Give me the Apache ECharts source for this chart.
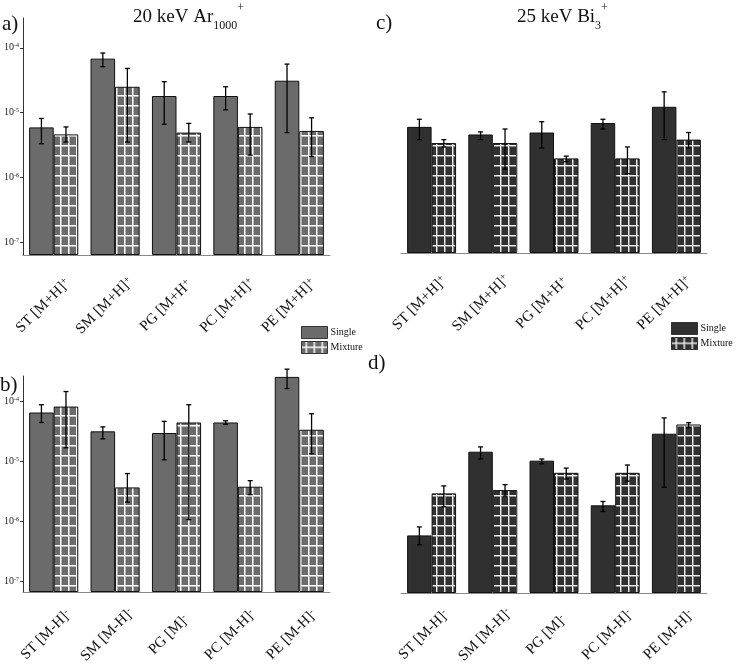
<!DOCTYPE html>
<html>
<head>
<meta charset="utf-8">
<script src="https://cdn.jsdelivr.net/npm/echarts@6/dist/echarts.min.js"></script>
<style>
html, body { margin: 0; padding: 0; background: #fff; }
#chart { width: 737px; height: 669px; }
</style>
</head>
<body>
<div id="chart"></div>
<script>
// categories
const catsPos = ['ST [M+H]+', 'SM [M+H]+', 'PG [M+H+', 'PC [M+H]+', 'PE [M+H]+']
const catsNeg = ['ST [M-H]-', 'SM [M-H]-', 'PG [M]-', 'PC [M-H]-', 'PE [M-H]-']

// a) 20 keV Ar1000+, positive ions
const arPosSingle = [5.9e-6, 6.8e-5, 1.8e-5, 1.8e-5, 3.1e-5]
const arPosSingleLo = [3.3e-6, 5.1e-5, 6.6e-6, 1.1e-5, 4.9e-6]
const arPosSingleHi = [8.1e-6, 8.3e-5, 3.0e-5, 2.5e-5, 5.6e-5]
const arPosMix = [4.6e-6, 2.5e-5, 4.9e-6, 6.0e-6, 5.2e-6]
const arPosMixLo = [3.5e-6, 3.5e-6, 3.5e-6, 2.2e-6, 2.1e-6]
const arPosMixHi = [6.0e-6, 4.8e-5, 6.8e-6, 9.5e-6, 8.3e-6]

// b) 20 keV Ar1000+, negative ions
const arNegSingle = [6.6e-5, 3.2e-5, 3.0e-5, 4.5e-5, 2.6e-4]
const arNegSingleLo = [4.5e-5, 2.4e-5, 1.07e-5, 4.2e-5, 1.66e-4]
const arNegSingleHi = [8.9e-5, 3.8e-5, 4.7e-5, 4.8e-5, 3.5e-4]
const arNegMix = [8.3e-5, 3.7e-6, 4.5e-5, 3.8e-6, 3.4e-5]
const arNegMixLo = [1.7e-5, 2.1e-6, 1.07e-6, 2.8e-6, 1.35e-5]
const arNegMixHi = [1.48e-4, 6.3e-6, 8.9e-5, 4.8e-6, 6.3e-5]

// c) 25 keV Bi3+, positive ions
const biPosSingle = [5.5e-6, 4.2e-6, 4.5e-6, 6.3e-6, 1.12e-5]
const biPosSingleLo = [3.5e-6, 3.5e-6, 2.6e-6, 5.1e-6, 3.5e-6]
const biPosSingleHi = [7.2e-6, 4.6e-6, 6.6e-6, 7.2e-6, 1.9e-5]
const biPosMix = [3.1e-6, 3.1e-6, 1.8e-6, 1.8e-6, 3.5e-6]
const biPosMixLo = [2.7e-6, 1.23e-6, 1.6e-6, 1.05e-6, 2.6e-6]
const biPosMixHi = [3.5e-6, 5.1e-6, 1.95e-6, 2.7e-6, 4.5e-6]

// d) 25 keV Bi3+, negative ions
const biNegSingle = [6.0e-7, 1.48e-5, 1.05e-5, 1.9e-6, 2.95e-5]
const biNegSingleLo = [4.2e-7, 1.12e-5, 9.3e-6, 1.5e-6, 3.8e-6]
const biNegSingleHi = [8.3e-7, 1.78e-5, 1.12e-5, 2.2e-6, 5.4e-5]
const biNegMix = [3.0e-6, 3.4e-6, 6.6e-6, 6.6e-6, 4.2e-5]
const biNegMixLo = [1.8e-6, 2.7e-6, 5.2e-6, 4.8e-6, 3.7e-5]
const biNegMixHi = [4.0e-6, 4.2e-6, 7.9e-6, 8.9e-6, 4.5e-5]

const serif = 'Liberation Serif'
const grey = '#6b6b6b'
const dark = '#303030'

// grid hatch for the "Mixture" bars
function makePattern(bg, line, soft) {
    const c = document.createElement('canvas')
    c.width = 8
    c.height = 10
    const g = c.getContext('2d')
    g.fillStyle = bg
    g.fillRect(0, 0, 8, 10)
    g.fillStyle = soft
    g.fillRect(0, 5, 8, 2)
    g.fillRect(4, 0, 2, 10)
    g.fillStyle = line
    g.fillRect(0, 5, 8, 1)
    g.fillRect(4, 0, 1, 10)
    return { image: c, repeat: 'repeat' }
}
const greyPattern = makePattern(grey, '#ffffff', '#b8b8b8')
const darkPattern = makePattern(dark, '#f0f0f0', '#8a8a8a')

const panels = [
    { grid: { left: 23, top: 18, width: 307, height: 237 }, yr: [-7.2, -3.54], cats: catsPos, showY: true, color: grey, pattern: greyPattern, labelMargin: 40, labelShift: 30,
      s: arPosSingle, sLo: arPosSingleLo, sHi: arPosSingleHi, m: arPosMix, mLo: arPosMixLo, mHi: arPosMixHi },
    { grid: { left: 23, top: 376, width: 307, height: 216 }, yr: [-7.18, -3.57], cats: catsNeg, showY: true, color: grey, pattern: greyPattern, labelMargin: 35, labelShift: 22,
      s: arNegSingle, sLo: arNegSingleLo, sHi: arNegSingleHi, m: arNegMix, mLo: arNegMixLo, mHi: arNegMixHi },
    { grid: { left: 401, top: 18, width: 306, height: 235 }, yr: [-7.2, -3.585], cats: catsPos, showY: false, color: dark, pattern: darkPattern, labelMargin: 38, labelShift: 34,
      s: biPosSingle, sLo: biPosSingleLo, sHi: biPosSingleHi, m: biPosMix, mLo: biPosMixLo, mHi: biPosMixHi },
    { grid: { left: 401, top: 376, width: 306, height: 217 }, yr: [-7.18, -3.57], cats: catsNeg, showY: false, color: dark, pattern: darkPattern, labelMargin: 34, labelShift: 22,
      s: biNegSingle, sLo: biNegSingleLo, sHi: biNegSingleHi, m: biNegMix, mLo: biNegMixLo, mHi: biNegMixHi }
]

function errorBars(side) {
    return function (params, api) {
        const lo = api.coord([api.value(0), api.value(1)])
        const hi = api.coord([api.value(0), api.value(2)])
        const bw = api.size([1, 0])[0] * 0.8 / 2
        const x = lo[0] + side * bw / 2
        const st = { stroke: '#000', lineWidth: 1.3 }
        return {
            type: 'group',
            children: [
                { type: 'line', shape: { x1: x, y1: lo[1], x2: x, y2: hi[1] }, style: st },
                { type: 'line', shape: { x1: x - 2.5, y1: lo[1], x2: x + 2.5, y2: lo[1] }, style: st },
                { type: 'line', shape: { x1: x - 2.5, y1: hi[1], x2: x + 2.5, y2: hi[1] }, style: st }
            ]
        }
    }
}

function yLabel(v) {
    const e = Math.log10(v)
    const r = Math.round(e)
    if (Math.abs(e - r) > 0.01) return ''
    return '10{s|' + r + '}'
}

function xLabel(v) {
    return v.replace(/([+-])$/, '{s|$1}')
}

const grids = [], xAxes = [], yAxes = [], series = []
panels.forEach(function (p, i) {
    grids.push(p.grid)
    xAxes.push({
        type: 'category', gridIndex: i, data: p.cats,
        axisLine: { lineStyle: { color: '#888', width: 1 } },
        axisTick: { alignWithLabel: true, length: 5, lineStyle: { color: '#444' } },
        axisLabel: {
            interval: 0, rotate: 45, align: 'center', verticalAlign: 'middle', margin: p.labelMargin,
            padding: [0, p.labelShift, 0, 0],
            fontFamily: serif, fontSize: 15, color: '#111', formatter: xLabel,
            rich: { s: { fontFamily: serif, fontSize: 10, verticalAlign: 'top', lineHeight: 8 } }
        }
    })
    xAxes.push({
        type: 'category', gridIndex: i, data: p.cats, position: 'bottom',
        axisLine: { show: false }, axisLabel: { show: false },
        axisTick: { length: 3, lineStyle: { color: '#888' } }
    })
    yAxes.push({
        type: 'log', gridIndex: i, show: p.showY,
        min: Math.pow(10, p.yr[0]), max: Math.pow(10, p.yr[1]), startValue: Math.pow(10, p.yr[0]),
        splitNumber: 4,
        axisLine: { show: true, lineStyle: { color: '#333' } },
        axisTick: { show: true, length: 3, lineStyle: { color: '#333' } },
        splitLine: { show: false },
        axisLabel: {
            margin: 4, fontFamily: serif, fontSize: 10, color: '#222', formatter: yLabel,
            showMinLabel: false, showMaxLabel: false,
            rich: { s: { fontFamily: serif, fontSize: 6, verticalAlign: 'top', lineHeight: 6 } }
        }
    })
    const border = { borderColor: '#111', borderWidth: 1 }
    series.push({
        name: 'Single', type: 'bar', xAxisIndex: 2 * i, yAxisIndex: i, data: p.s,
        barGap: '0%', barCategoryGap: '20%',
        itemStyle: Object.assign({ color: p.color }, border)
    })
    series.push({
        name: 'Mixture', type: 'bar', xAxisIndex: 2 * i, yAxisIndex: i, data: p.m,
        barGap: '0%', barCategoryGap: '20%',
        itemStyle: Object.assign({ color: p.pattern }, border)
    })
    series.push({
        type: 'custom', xAxisIndex: 2 * i, yAxisIndex: i, z: 5,
        data: p.s.map(function (v, k) { return [k, p.sLo[k], p.sHi[k]] }),
        renderItem: errorBars(-1)
    })
    series.push({
        type: 'custom', xAxisIndex: 2 * i, yAxisIndex: i, z: 5,
        data: p.m.map(function (v, k) { return [k, p.mLo[k], p.mHi[k]] }),
        renderItem: errorBars(1)
    })
})

const titleRich = {
    sub: { fontFamily: serif, fontSize: 12, verticalAlign: 'bottom', lineHeight: 8, color: '#111' },
    sup: { fontFamily: serif, fontSize: 12, verticalAlign: 'top', lineHeight: 10, color: '#111' }
}
function title(text, left, top, size) {
    return {
        text: text, left: left, top: top, padding: 0,
        textStyle: { fontFamily: serif, fontSize: size, fontWeight: 'normal', color: '#111', lineHeight: 30, rich: titleRich }
    }
}

function legend(left, top, color, pattern) {
    return {
        left: left, top: top, orient: 'vertical', padding: 0, itemGap: 2,
        itemWidth: 26, itemHeight: 12, icon: 'rect', selectedMode: false,
        textStyle: { fontFamily: serif, fontSize: 10, color: '#111', padding: [0, 0, 0, -2] },
        data: [
            { name: 'Single', itemStyle: { color: color, borderColor: '#333', borderWidth: 1 } },
            { name: 'Mixture', itemStyle: { color: pattern, borderColor: '#333', borderWidth: 1 } }
        ]
    }
}

const chart = echarts.init(document.getElementById('chart'))
chart.setOption({
    animation: false,
    backgroundColor: '#fff',
    title: [
        title('a)', 2, 9, 21),
        title('20 keV Ar{sub|1000}{sup|+}', 133, 2, 19),
        title('c)', 376, 8, 21),
        title('25 keV Bi{sub|3}{sup|+}', 517, 2, 19),
        title('b)', 0, 370, 21),
        title('d)', 368, 348, 21)
    ],
    legend: [legend(301, 326, grey, greyPattern), legend(671, 322, dark, darkPattern)],
    grid: grids,
    xAxis: xAxes,
    yAxis: yAxes,
    series: series
})
</script>
</body>
</html>
